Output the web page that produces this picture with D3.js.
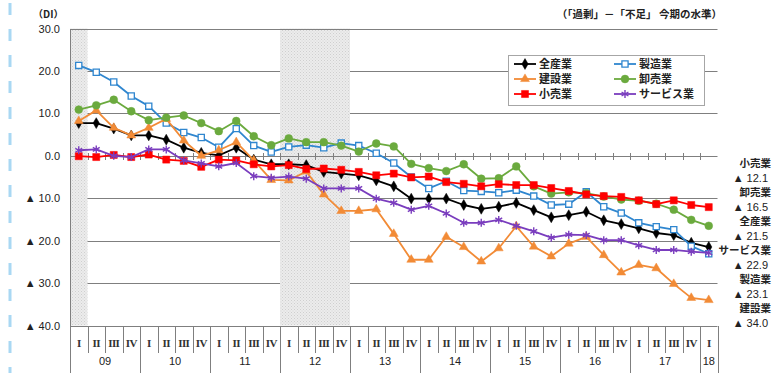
<!DOCTYPE html>
<html>
<head>
<meta charset="utf-8">
<script src="https://cdn.jsdelivr.net/npm/d3@7"></script>
<style>
  html, body { margin: 0; padding: 0; background: #fff; }
  svg { display: block; }
  .num { font-family: "Liberation Sans", Arial, sans-serif; }
  .jp { font-family: "Noto Sans CJK JP", sans-serif; }
</style>
</head>
<body>
<svg id="chart" width="780" height="373"></svg>
<script>
// Quarters 2009 I .. 2018 I
const years = ["09", "10", "11", "12", "13", "14", "15", "16", "17", "18"];
const quarterLabels = ["I", "II", "III", "IV"];
const quartersPerYear = [4, 4, 4, 4, 4, 4, 4, 4, 4, 1];

// DI series (「過剰」－「不足」)
const zensangyo = [7.7, 7.7, 6.4, 4.8, 4.8, 3.8, 1.9, 0.7, 0.1, 1.9, -0.9, -2.0,
  -2.0, -2.2, -3.8, -4.2, -4.6, -5.8, -7.2, -10.1, -10.1, -10.1, -11.6, -12.5,
  -12.0, -11.1, -12.8, -14.5, -14.0, -13.2, -15.2, -16.1, -17.1, -18.2, -18.7, -20.5, -21.5];
const seizo = [21.3, 19.7, 17.4, 14.1, 11.7, 7.7, 5.5, 4.3, 2.0, 6.4, 2.4, 0.9,
  2.1, 2.5, 1.9, 3.0, 2.4, 0.6, -1.7, -5.0, -7.7, -6.0, -8.2, -8.4,
  -8.7, -8.1, -9.5, -11.6, -11.4, -8.5, -12.0, -13.5, -15.8, -16.7, -17.4, -21.3, -23.1];
const kensetsu = [8.2, 10.7, 6.6, 4.8, 6.6, 8.7, 3.6, 0.0, 1.3, 3.2, -1.1, -5.7,
  -5.8, -3.7, -9.1, -13.0, -13.0, -12.6, -18.4, -24.5, -24.5, -19.1, -21.5, -24.9,
  -21.8, -16.6, -21.4, -23.7, -20.7, -19.1, -23.4, -27.5, -25.7, -26.5, -30.2, -33.5, -34.0];
const oroshiuri = [10.9, 11.9, 13.2, 10.5, 8.4, 9.0, 9.5, 7.7, 5.8, 8.2, 4.6, 2.5,
  4.1, 3.2, 3.2, 2.4, 1.0, 2.9, 2.2, -1.9, -2.9, -3.6, -2.0, -5.4,
  -5.3, -2.5, -7.2, -8.9, -8.6, -8.8, -9.6, -10.3, -10.6, -11.3, -12.7, -15.1, -16.5];
const kouri = [-0.1, -0.3, 0.2, -0.3, 0.3, -0.9, -1.2, -2.6, -0.9, -1.1, -2.0, -2.5,
  -2.2, -3.1, -3.0, -3.3, -3.8, -4.6, -4.2, -5.1, -4.9, -6.2, -6.6, -7.2,
  -6.7, -6.9, -6.9, -7.6, -8.3, -9.1, -9.5, -9.7, -10.5, -11.4, -10.5, -11.6, -12.1];
const service = [1.3, 1.5, 0.0, -0.3, 1.5, 1.5, -1.1, -1.8, -2.5, -1.7, -4.8, -5.2,
  -4.9, -5.4, -7.7, -7.7, -7.7, -10.1, -11.1, -12.7, -11.8, -13.6, -15.8, -15.8,
  -15.1, -16.5, -17.8, -19.3, -18.6, -18.7, -19.9, -19.9, -21.1, -22.2, -22.2, -22.6, -22.9];

const seriesNames = ["全産業", "製造業", "建設業", "卸売業", "小売業", "サービス業"];
const seriesValues = [zensangyo, seizo, kensetsu, oroshiuri, kouri, service];

// Labels for latest values, top to bottom
const endNames = ["小売業", "卸売業", "全産業", "サービス業", "製造業", "建設業"];
const endValues = [-12.1, -16.5, -21.5, -22.9, -23.1, -34.0];

// Shaded quarter ranges (first index, last index inclusive)
const shadedRanges = [[0, 0], [12, 15]];

const yTicks = [30, 20, 10, 0, -10, -20, -30, -40];

// ---------- derived ----------
const categories = [];
years.forEach((yr, yi) => {
  for (let q = 0; q < quartersPerYear[yi]; q++) categories.push({ year: yr, q: quarterLabels[q], key: yr + "-" + q });
});

const styles = {
  "全産業":   { color: "#000000", symbol: d3.symbolDiamond, size: 34, fill: "#000000" },
  "製造業":   { color: "#2F86CF", symbol: d3.symbolSquare, size: 38, fill: "#ffffff" },
  "建設業":   { color: "#F28B36", symbol: d3.symbolTriangle, size: 34, fill: "#F28B36" },
  "卸売業":   { color: "#6BAA3E", symbol: d3.symbolCircle, size: 48, fill: "#6BAA3E" },
  "小売業":   { color: "#FF0000", symbol: d3.symbolSquare, size: 50, fill: "#FF0000" },
  "サービス業": { color: "#7A3DBE", symbol: d3.symbolAsterisk, size: 44, fill: "none" }
};

const svg = d3.select("#chart");
const plotLeft = 70, plotRight = 717.5, plotTop = 28.5, plotBottom = 325.5;

const x = d3.scaleBand().domain(categories.map(d => d.key)).range([plotLeft, plotRight]).padding(0);
const y = d3.scaleLinear().domain([-40, 30]).range([plotBottom, plotTop]);
const cx = i => x(categories[i].key) + x.bandwidth() / 2;

// page margin marker
svg.append("line")
  .attr("x1", 10).attr("x2", 10).attr("y1", 3).attr("y2", 373)
  .attr("stroke", "#a9d8f3").attr("stroke-width", 3)
  .attr("stroke-dasharray", "12 14");

// horizontal gridlines
svg.append("g").selectAll("line").data(yTicks.filter(v => v !== 0 && v !== 30 && v !== -40)).join("line")
  .attr("x1", plotLeft).attr("x2", plotRight)
  .attr("y1", d => Math.round(y(d)) + 0.5).attr("y2", d => Math.round(y(d)) + 0.5)
  .attr("stroke", "#7f7f7f").attr("stroke-width", 1);

// shaded periods
const defs = svg.append("defs");
const pat = defs.append("pattern").attr("id", "dots").attr("patternUnits", "userSpaceOnUse")
  .attr("width", 3).attr("height", 3);
pat.append("rect").attr("width", 3).attr("height", 3).attr("fill", "#ececec");
pat.append("rect").attr("x", 0).attr("y", 0).attr("width", 1).attr("height", 1).attr("fill", "#cfcfcf");
pat.append("rect").attr("x", 1.5).attr("y", 1.5).attr("width", 1).attr("height", 1).attr("fill", "#d6d6d6");

svg.append("g").selectAll("rect").data(shadedRanges).join("rect")
  .attr("x", d => x(categories[d[0]].key))
  .attr("width", d => x(categories[d[1]].key) + x.bandwidth() - x(categories[d[0]].key))
  .attr("y", y(30)).attr("height", y(-40) - y(30))
  .attr("fill", "url(#dots)");

// top border, zero axis, bottom axis
[30, 0, -40].forEach(v => {
  svg.append("line").attr("x1", plotLeft).attr("x2", plotRight)
    .attr("y1", Math.round(y(v)) + 0.5).attr("y2", Math.round(y(v)) + 0.5)
    .attr("stroke", "#7f7f7f").attr("stroke-width", 1);
});

// cross ticks on zero line at quarter boundaries
const boundaries = d3.range(categories.length + 1).map(i =>
  i < categories.length ? x(categories[i].key) : plotRight);
svg.append("g").selectAll("line").data(boundaries.slice(1, -1)).join("line")
  .attr("x1", d => Math.round(d) + 0.5).attr("x2", d => Math.round(d) + 0.5)
  .attr("y1", Math.round(y(0)) - 3).attr("y2", Math.round(y(0)) + 4)
  .attr("stroke", "#7f7f7f");

// left axis line
svg.append("line").attr("x1", plotLeft + 0.5).attr("x2", plotLeft + 0.5)
  .attr("y1", Math.round(y(30))).attr("y2", 373)
  .attr("stroke", "#7f7f7f");

// y tick labels
const yAxis = d3.axisLeft(y).tickValues(yTicks).tickSize(0).tickPadding(0)
  .tickFormat(v => v < 0 ? "▲ " + Math.abs(v).toFixed(1) : v.toFixed(1));
const ya = svg.append("g").attr("transform", "translate(60,0)").call(yAxis);
ya.select(".domain").remove();
ya.selectAll("text").attr("font-size", 11).attr("fill", "#222")
  .style("font-family", "'Liberation Sans', Arial, sans-serif");

// category dividers below the axis
const yearStart = new Set();
categories.forEach((c, i) => { if (i === 0 || categories[i - 1].year !== c.year) yearStart.add(i); });
svg.append("g").selectAll("line").data(d3.range(1, categories.length + 1)).join("line")
  .attr("x1", i => Math.round(boundaries[i]) + 0.5).attr("x2", i => Math.round(boundaries[i]) + 0.5)
  .attr("y1", Math.round(y(-40)))
  .attr("y2", i => (yearStart.has(i) || i === categories.length) ? 373 : 353)
  .attr("stroke", "#7f7f7f");

// quarter labels
svg.append("g").selectAll("text").data(categories).join("text")
  .attr("x", (d, i) => cx(i)).attr("y", 343).attr("dy", "0.35em")
  .attr("text-anchor", "middle")
  .attr("font-family", "'Liberation Serif', 'Times New Roman', serif")
  .attr("font-size", 11).attr("font-weight", "bold").attr("fill", "#333")
  .attr("letter-spacing", -0.6)
  .text(d => d.q);

// year labels
const yearCenters = years.map(yr => {
  const idx = categories.map((c, i) => c.year === yr ? i : -1).filter(i => i >= 0);
  return { yr, x: (x(categories[idx[0]].key) + x(categories[idx[idx.length - 1]].key) + x.bandwidth()) / 2 };
});
svg.append("g").selectAll("text").data(yearCenters).join("text")
  .attr("x", d => d.x).attr("y", 361).attr("dy", "0.35em")
  .attr("text-anchor", "middle").attr("class", "num")
  .attr("font-size", 11).attr("fill", "#222")
  .text(d => d.yr);

// series lines and markers
const line = d3.line().x((d, i) => cx(i)).y(d => y(d));
seriesNames.forEach((name, si) => {
  const st = styles[name];
  const vals = seriesValues[si];
  const g = svg.append("g");
  g.append("path").datum(vals).attr("d", line)
    .attr("fill", "none").attr("stroke", st.color).attr("stroke-width", 1.8)
    .attr("stroke-linejoin", "round");
  g.selectAll("path.m").data(vals).join("path").attr("class", "m")
    .attr("transform", (d, i) => `translate(${cx(i)},${y(d)})`)
    .attr("d", d3.symbol().type(st.symbol).size(st.size))
    .attr("fill", st.fill)
    .attr("stroke", st.color)
    .attr("stroke-width", name === "サービス業" ? 1.4 : (name === "製造業" ? 1.3 : 0.5));
});

// legend
const lg = svg.append("g");
lg.append("rect").attr("x", 508.5).attr("y", 55.5).attr("width", 196).attr("height", 50)
  .attr("fill", "#fff").attr("stroke", "#a6a6a6");
seriesNames.forEach((name, i) => {
  const st = styles[name];
  const col = i % 2, row = Math.floor(i / 2);
  const lx = col === 0 ? 514 : 614;
  const ly = 64 + row * 15;
  lg.append("line").attr("x1", lx).attr("x2", lx + 22).attr("y1", ly).attr("y2", ly)
    .attr("stroke", st.color).attr("stroke-width", 1.8);
  lg.append("path").attr("transform", `translate(${lx + 11},${ly})`)
    .attr("d", d3.symbol().type(st.symbol).size(st.size))
    .attr("fill", st.fill).attr("stroke", st.color)
    .attr("stroke-width", name === "サービス業" ? 1.4 : (name === "製造業" ? 1.3 : 0.5));
  lg.append("text").attr("x", lx + 25).attr("y", ly).attr("dy", "0.35em")
    .attr("class", "jp").attr("font-size", 11).attr("font-weight", "bold").attr("fill", "#222")
    .text(name);
});

// unit and title
svg.append("text").attr("x", 33).attr("y", 14).attr("dy", "0.35em")
  .attr("class", "jp").attr("font-size", 10).attr("font-weight", "bold").attr("fill", "#222")
  .text("（DI）");
svg.append("text").attr("x", 722).attr("y", 14).attr("dy", "0.35em")
  .attr("text-anchor", "end")
  .attr("class", "jp").attr("font-size", 10.5).attr("font-weight", "bold").attr("fill", "#222")
  .text("（「過剰」－「不足」 今期の水準）");

// latest-value labels on the right
const endG = svg.append("g");
endNames.forEach((name, i) => {
  const yy = 163 + i * 29;
  endG.append("text").attr("x", 771).attr("y", yy).attr("dy", "0.35em")
    .attr("text-anchor", "end").attr("class", "jp").attr("font-size", 10.5)
    .attr("font-weight", "bold").attr("fill", "#222").text(name);
  endG.append("text").attr("x", 768).attr("y", yy + 15).attr("dy", "0.35em")
    .attr("text-anchor", "end").attr("class", "num").attr("font-size", 11)
    .attr("fill", "#222").text("▲ " + Math.abs(endValues[i]).toFixed(1));
});
</script>
</body>
</html>
